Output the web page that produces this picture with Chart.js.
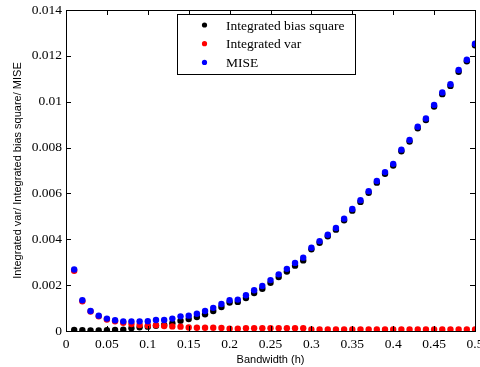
<!DOCTYPE html>
<html>
<head>
<meta charset="utf-8">
<script src="https://cdn.jsdelivr.net/npm/chart.js@4.4.1/dist/chart.umd.min.js"></script>
<style>
  html, body { margin: 0; padding: 0; background: #fff; }
  #wrap { width: 480px; height: 367px; }
</style>
</head>
<body>
<div id="wrap"><canvas id="myChart" width="480" height="367"></canvas></div>
<script>
// bandwidth values h = 0.01 .. 0.50
const bandwidth = [
  0.01, 0.02, 0.03, 0.04, 0.05, 0.06, 0.07, 0.08, 0.09, 0.10,
  0.11, 0.12, 0.13, 0.14, 0.15, 0.16, 0.17, 0.18, 0.19, 0.20,
  0.21, 0.22, 0.23, 0.24, 0.25, 0.26, 0.27, 0.28, 0.29, 0.30,
  0.31, 0.32, 0.33, 0.34, 0.35, 0.36, 0.37, 0.38, 0.39, 0.40,
  0.41, 0.42, 0.43, 0.44, 0.45, 0.46, 0.47, 0.48, 0.49, 0.50
];

const biasSquare = [
  0.00005, 0.00003, 0.00002, 0.00002, 0.00003, 0.00005, 0.00006, 0.00012, 0.00016, 0.00019,
  0.00023, 0.00026, 0.00034, 0.00045, 0.00052, 0.00061, 0.00073, 0.00087, 0.00105, 0.00124,
  0.00127, 0.00144, 0.00166, 0.00184, 0.00210, 0.00235, 0.00259, 0.00285, 0.00308, 0.00356,
  0.00385, 0.00413, 0.00442, 0.00483, 0.00525, 0.00563, 0.00603, 0.00647, 0.00686, 0.00722,
  0.00784, 0.00826, 0.00884, 0.00920, 0.00979, 0.01033, 0.01069, 0.01131, 0.01176, 0.01246
];

const integratedVar = [
  0.00263, 0.00130, 0.00085, 0.00064, 0.00050, 0.00042, 0.00036, 0.00030, 0.00026, 0.00024,
  0.00025, 0.00022, 0.00020, 0.00019, 0.00015, 0.00014, 0.00014, 0.00014, 0.00013, 0.00010,
  0.00010, 0.00012, 0.00012, 0.00012, 0.00012, 0.00012, 0.00012, 0.00012, 0.00012, 0.00007,
  0.00007, 0.00007, 0.00007, 0.00007, 0.00007, 0.00007, 0.00007, 0.00007, 0.00007, 0.00007,
  0.00007, 0.00007, 0.00007, 0.00007, 0.00007, 0.00007, 0.00007, 0.00007, 0.00007, 0.00007
];

const mise = [
  0.00268, 0.00134, 0.00087, 0.00067, 0.00054, 0.00047, 0.00042, 0.00042, 0.00042, 0.00043,
  0.00048, 0.00048, 0.00054, 0.00064, 0.00067, 0.00075, 0.00087, 0.00101, 0.00118, 0.00134,
  0.00137, 0.00156, 0.00178, 0.00196, 0.00222, 0.00247, 0.00271, 0.00297, 0.00320, 0.00363,
  0.00392, 0.00420, 0.00449, 0.00490, 0.00532, 0.00570, 0.00610, 0.00654, 0.00693, 0.00729,
  0.00791, 0.00833, 0.00891, 0.00927, 0.00986, 0.01040, 0.01076, 0.01138, 0.01183, 0.01253
];

const xTicks = [0, 0.05, 0.1, 0.15, 0.2, 0.25, 0.3, 0.35, 0.4, 0.45, 0.5];
const xTickLabels = ['0', '0.05', '0.1', '0.15', '0.2', '0.25', '0.3', '0.35', '0.4', '0.45', '0.5'];
const yTicks = [0, 0.002, 0.004, 0.006, 0.008, 0.01, 0.012, 0.014];
const yTickLabels = ['0', '0.002', '0.004', '0.006', '0.008', '0.01', '0.012', '0.014'];

const seriesNames = ['Integrated bias square', 'Integrated var', 'MISE'];
const seriesColors = ['#000000', '#ff0000', '#0000ff'];

function points(ys) {
  return bandwidth.map((x, i) => ({ x: x, y: ys[i] }));
}

// box around the plot with inward ticks on all four sides (matlab style)
const framePlugin = {
  id: 'frame',
  afterDatasetsDraw(chart) {
    const { ctx, chartArea: a, scales } = chart;
    const len = 5;
    ctx.save();
    ctx.strokeStyle = '#000';
    ctx.lineWidth = 1;
    ctx.beginPath();
    xTicks.forEach(v => {
      const px = Math.round(scales.x.getPixelForValue(v)) + 0.5;
      ctx.moveTo(px, a.bottom); ctx.lineTo(px, a.bottom - len);
      ctx.moveTo(px, a.top); ctx.lineTo(px, a.top + len);
    });
    yTicks.forEach(v => {
      const py = Math.round(scales.y.getPixelForValue(v)) + 0.5;
      ctx.moveTo(a.left, py); ctx.lineTo(a.left + len, py);
      ctx.moveTo(a.right, py); ctx.lineTo(a.right - len, py);
    });
    ctx.stroke();
    ctx.strokeRect(Math.round(a.left) + 0.5, Math.round(a.top) + 0.5,
      Math.round(a.right - a.left), Math.round(a.bottom - a.top));
    ctx.restore();
  }
};

// legend box inside the plot, top centre
const legendPlugin = {
  id: 'boxLegend',
  afterDraw(chart) {
    const ctx = chart.ctx;
    const x0 = 177.5, y0 = 14.5, w = 178, h = 60;
    ctx.save();
    ctx.fillStyle = '#fff';
    ctx.fillRect(x0, y0, w, h);
    ctx.strokeStyle = '#000';
    ctx.lineWidth = 1;
    ctx.strokeRect(x0, y0, w, h);
    ctx.font = '13.5px "Liberation Serif"';
    ctx.textBaseline = 'middle';
    seriesNames.forEach((name, i) => {
      const cy = 25 + i * 18.7;
      ctx.fillStyle = seriesColors[i];
      ctx.beginPath();
      ctx.arc(204.5, cy, 2.6, 0, Math.PI * 2);
      ctx.fill();
      ctx.fillStyle = '#000';
      ctx.fillText(name, 226, cy + 1);
    });
    ctx.restore();
  }
};

const ctx = document.getElementById('myChart').getContext('2d');
new Chart(ctx, {
  type: 'scatter',
  data: {
    datasets: [
      { label: seriesNames[0], data: points(biasSquare), backgroundColor: seriesColors[0], borderWidth: 0, pointRadius: 3.2, order: 3 },
      { label: seriesNames[1], data: points(integratedVar), backgroundColor: seriesColors[1], borderWidth: 0, pointRadius: 3.2, order: 2 },
      { label: seriesNames[2], data: points(mise), backgroundColor: seriesColors[2], borderWidth: 0, pointRadius: 3.2, order: 1 }
    ]
  },
  options: {
    responsive: false,
    animation: false,
    layout: { padding: { top: 10, right: 5, left: 0, bottom: 0 } },
    scales: {
      x: {
        type: 'linear',
        min: 0, max: 0.5,
        grid: { display: false, drawTicks: false },
        border: { display: false },
        afterBuildTicks(scale) { scale.ticks = xTicks.map(v => ({ value: v })); },
        afterFit(scale) { scale.height = 36; scale.paddingLeft = 0; scale.paddingRight = 0; },
        ticks: {
          autoSkip: false, maxRotation: 0, padding: 5, color: '#000',
          font: { family: 'Liberation Serif', size: 13.5 },
          callback: (v, i) => xTickLabels[i]
        },
        title: {
          display: true, text: 'Bandwidth (h)', color: '#000', padding: 0,
          font: { family: 'Liberation Sans', size: 11 }
        }
      },
      y: {
        type: 'linear',
        min: 0, max: 0.014,
        grid: { display: false, drawTicks: false },
        border: { display: false },
        afterBuildTicks(scale) { scale.ticks = yTicks.map(v => ({ value: v })); },
        afterFit(scale) { scale.width = 66; scale.paddingTop = 0; scale.paddingBottom = 0; },
        ticks: {
          autoSkip: false, padding: 4, color: '#000',
          font: { family: 'Liberation Serif', size: 13.5 },
          callback: (v, i) => yTickLabels[i]
        },
        title: {
          display: true, text: 'Integrated var/ Integrated bias square/ MISE', color: '#000',
          padding: { top: 11, bottom: 0 },
          font: { family: 'Liberation Sans', size: 11 }
        }
      }
    },
    plugins: {
      legend: { display: false },
      tooltip: { enabled: false }
    }
  },
  plugins: [framePlugin, legendPlugin]
});
</script>
</body>
</html>
